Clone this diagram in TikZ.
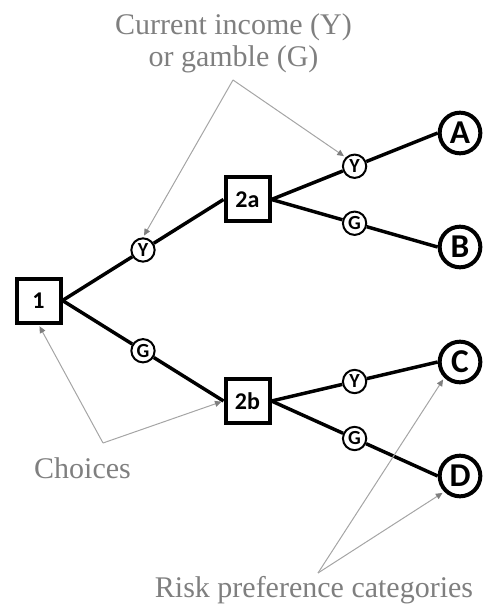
\documentclass[tikz,border=0pt]{standalone}
\usepackage{fontspec}
\setmainfont{Liberation Serif}
\newfontfamily\labelfont{Carlito}
\usetikzlibrary{arrows.meta,calc}
\definecolor{notegray}{RGB}{127,127,127}
\definecolor{pointergray}{RGB}{165,165,165}

\begin{document}
\begin{tikzpicture}[x=0.75pt,y=-0.75pt,
  decision/.style={draw,line width=3pt,minimum size=33pt,inner sep=0pt,
    font=\labelfont\bfseries\fontsize{18}{18}\selectfont},
  choice/.style={circle,draw,line width=1.5pt,fill=white,minimum size=17.5pt,inner sep=0pt,
    font=\labelfont\bfseries\fontsize{15}{15}\selectfont},
  outcome/.style={circle,draw,line width=3pt,fill=white,minimum size=30.5pt,inner sep=0pt,
    font=\labelfont\bfseries\fontsize{25}{25}\selectfont},
  branch/.style={line width=2.6pt},
  note/.style={text=notegray,font=\fontsize{22.5}{25}\selectfont,inner sep=0pt,anchor=base},
  pointer/.style={draw=pointergray,line width=0.75pt,shorten >=1.5pt,
    -{Triangle[width=4.5pt,length=5pt,color=notegray]}}
]
\useasboundingbox (0,0) rectangle (483,616);

% decision points
\node[decision] (n1)  at (38.5,300.5) {1};
\node[decision] (n2a) at (247.5,199.5) {2a};
\node[decision] (n2b) at (247.5,401) {2b};

% risk preference outcomes
\node[outcome] (A) at (460,133) {A};
\node[outcome] (B) at (460,247) {B};
\node[outcome] (C) at (460,362) {C};
\node[outcome] (D) at (460,476) {D};

% choice markers halfway along each branch
\node[choice] (c1) at ($(n1.east)!0.5!(n2a.west)$) {Y};
\node[choice] (c2) at ($(n1.east)!0.5!(n2b.west)$) {G};
\node[choice] (c3) at ($(n2a.east)!0.5!(A.west)$) {Y};
\node[choice] (c4) at ($(n2a.east)!0.5!(B.west)$) {G};
\node[choice] (c5) at ($(n2b.east)!0.5!(C.west)$) {Y};
\node[choice] (c6) at ($(n2b.east)!0.5!(D.west)$) {G};

% branches
\draw[branch] (n1.east) -- (c1) -- (n2a.west);
\draw[branch] (n1.east) -- (c2) -- (n2b.west);
\draw[branch] (n2a.east) -- (c3) -- (A.west);
\draw[branch] (n2a.east) -- (c4) -- (B.west);
\draw[branch] (n2b.east) -- (c5) -- (C.west);
\draw[branch] (n2b.east) -- (c6) -- (D.west);

% annotations
\node[note] (incomeA) at (233.5,35) {Current income (Y)};
\node[note] (incomeB) at (233.5,67) {or gamble (G)};
\node[note] (choices) at (82.5,478) {Choices};
\node[note] (risk) at (314,597) {Risk preference categories};

\coordinate (topapex) at (233,80);
\coordinate (choiceapex) at (103,443);
\coordinate (riskapex) at (318,573);

\draw[pointer] (topapex) -- (c1.north);
\draw[pointer] (topapex) -- (c3.north west);
\draw[pointer] (choiceapex) -- (n1.south);
\draw[pointer] (choiceapex) -- (n2b.west);
\draw[pointer] (riskapex) -- (C.south west);
\draw[pointer] (riskapex) -- (D.south west);
\end{tikzpicture}
\end{document}
